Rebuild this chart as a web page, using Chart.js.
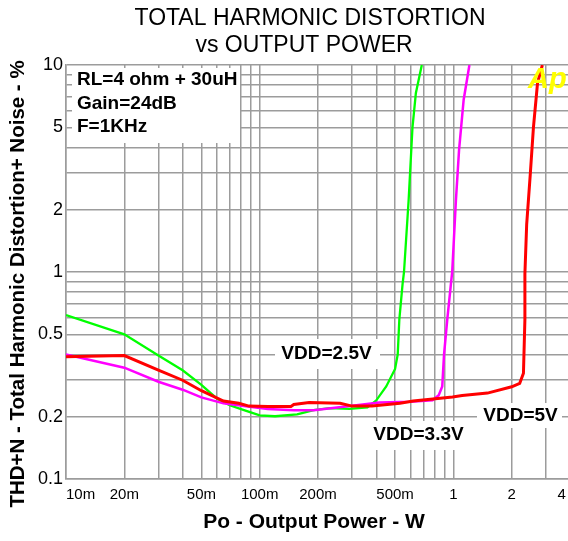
<!DOCTYPE html>
<html><head><meta charset="utf-8">
<script src="https://cdn.jsdelivr.net/npm/chart.js@4/dist/chart.umd.min.js"></script>
<style>
html,body{margin:0;padding:0;background:#fff;overflow:hidden;width:568px;height:541px}
#wrap{position:relative;width:570px;height:541px}
canvas{display:block}
</style></head>
<body><div id="wrap"><canvas id="c" width="570" height="541"></canvas></div>
<script>
const FONT = "'Liberation Sans', Arial, sans-serif";
const chartTitle = ["TOTAL HARMONIC DISTORTION", "vs OUTPUT POWER"];
const xAxisTitle = "Po - Output Power - W";
const yAxisTitle = "THD+N - Total Harmonic Distortion+ Noise - %";
const conditionLines = ["RL=4 ohm + 30uH", "Gain=24dB", "F=1KHz"];
const seriesNames = ["VDD=2.5V", "VDD=3.3V", "VDD=5V"];

// tick labels
const xTickValues = [0.01, 0.02, 0.05, 0.1, 0.2, 0.5, 1, 2, 4];
const xTickText   = ["10m", "20m", "50m", "100m", "200m", "500m", "1", "2", "4 "];
const yTickValues = [0.1, 0.2, 0.5, 1, 2, 5, 10];
const yTickText   = ["0.1", "0.2", "0.5", "1", "2", "5", "10"];

// VDD = 2.5 V  (green)
const power25 = [0.01, 0.02, 0.03, 0.04, 0.05, 0.06, 0.07, 0.083, 0.1, 0.12, 0.156, 0.19, 0.23, 0.29, 0.36, 0.40, 0.45, 0.50, 0.516, 0.526, 0.547, 0.556, 0.587, 0.615, 0.64, 0.687];
const thd25   = [0.62, 0.50, 0.395, 0.335, 0.285, 0.245, 0.227, 0.215, 0.203, 0.201, 0.205, 0.215, 0.22, 0.218, 0.222, 0.24, 0.28, 0.34, 0.40, 0.59, 0.88, 1.0, 2.2, 5.0, 7.3, 10];

// VDD = 3.3 V  (magenta)
const power33 = [0.01, 0.02, 0.03, 0.04, 0.05, 0.065, 0.083, 0.11, 0.15, 0.19, 0.30, 0.415, 0.6, 0.78, 0.84, 0.876, 0.895, 0.93, 0.968, 0.986, 1.03, 1.07, 1.13, 1.21];
const thd33   = [0.40, 0.345, 0.295, 0.27, 0.248, 0.232, 0.225, 0.218, 0.215, 0.215, 0.226, 0.234, 0.236, 0.24, 0.254, 0.28, 0.40, 0.59, 0.85, 1.0, 2.2, 3.9, 6.8, 10];

// VDD = 5 V  (red)
const power50 = [0.01, 0.013, 0.02, 0.03, 0.04, 0.05, 0.065, 0.078, 0.088, 0.11, 0.145, 0.15, 0.18, 0.26, 0.30, 0.38, 0.53, 0.62, 0.99, 1.11, 1.5, 2.0, 2.2, 2.3, 2.34, 2.34, 2.39, 2.49, 2.59, 2.72, 2.88];
const thd50   = [0.39, 0.392, 0.395, 0.336, 0.30, 0.267, 0.238, 0.232, 0.225, 0.224, 0.224, 0.229, 0.234, 0.232, 0.225, 0.225, 0.232, 0.238, 0.249, 0.253, 0.26, 0.279, 0.29, 0.324, 0.59, 0.98, 1.7, 2.9, 5.0, 8.2, 10];

function zip(xs, ys){ return xs.map((x,i)=>({x:x, y:ys[i]})); }
function decadeGrid(lo, hi, stopAt){
  const out=[];
  for(let d=lo; d<hi; d*=10){ for(let m=1;m<=9;m++){ const v=+(m*d).toPrecision(6); if(v<=stopAt) out.push(v);} }
  if(out[out.length-1]!==stopAt) out.push(stopAt);
  return out;
}
const xGrid = decadeGrid(0.01, 10, 4);
const yGrid = decadeGrid(0.1, 10, 10);
function lookup(vals, texts, v){
  for(let i=0;i<vals.length;i++){ if(Math.abs(vals[i]-v)/vals[i] < 1e-6) return texts[i]; }
  return '';
}

const GRID = '#9c9c9c';

const overlay = {
  id:'overlay',
  beforeDraw(chart){
    const ctx=chart.ctx; ctx.save(); ctx.fillStyle='#fff'; ctx.fillRect(0,0,chart.width,chart.height); ctx.restore();
  },
  beforeDatasetsDraw(chart){
    const ctx=chart.ctx; ctx.save();
    ctx.fillStyle='#fff';
    ctx.fillRect(72,68,168,75);
    ctx.fillRect(275,339,105,30);
    ctx.fillRect(369,421,99,29);
    ctx.fillRect(477,403,85,25);
    ctx.fillStyle='#000';
    ctx.font='bold 19px '+FONT;
    ctx.textBaseline='middle'; ctx.textAlign='left';
    conditionLines.forEach((t,i)=>ctx.fillText(t, 77, 80+i*23.3));
    ctx.textAlign='center';
    ctx.fillText(seriesNames[0], 326.5, 354);
    ctx.fillText(seriesNames[1], 418.5, 435);
    ctx.fillText(seriesNames[2], 520.5, 416);
    ctx.restore();
  },
  afterDraw(chart){
    const ctx=chart.ctx; ctx.save();
    ctx.fillStyle='#000'; ctx.textBaseline='middle'; ctx.textAlign='center';
    ctx.font='23px '+FONT;
    ctx.fillText(chartTitle[0], 310, 19);
    ctx.fillText(chartTitle[1], 304, 46);
    ctx.font='bold 21px '+FONT;
    ctx.fillText(xAxisTitle, 314, 522);
    ctx.save();
    ctx.translate(18, 284); ctx.rotate(-Math.PI/2);
    ctx.font='bold 20.5px '+FONT;
    ctx.fillText(yAxisTitle, 0, 0);
    ctx.restore();
    ctx.font='italic bold 29px '+FONT;
    ctx.fillStyle='#ffff00'; ctx.textAlign='left'; ctx.textBaseline='alphabetic';
    ctx.fillText('Ap', 528, 88);
    ctx.restore();
  }
};

new Chart(document.getElementById('c'), {
  type:'line',
  data:{ datasets:[
    {label:seriesNames[2], data:zip(power50,thd50), borderColor:'#ff0000', borderWidth:3, pointRadius:0, tension:0, order:0},
    {label:seriesNames[1], data:zip(power33,thd33), borderColor:'#ff00ff', borderWidth:2.5, pointRadius:0, tension:0, order:1},
    {label:seriesNames[0], data:zip(power25,thd25), borderColor:'#00ff00', borderWidth:2.3, pointRadius:0, tension:0, order:2}
  ]},
  options:{
    responsive:false, animation:false, events:[],
    layout:{padding:{left:0, right:0, top:65, bottom:0}},
    plugins:{legend:{display:false}, tooltip:{enabled:false}, title:{display:false}},
    scales:{
      x:{ type:'logarithmic', position:'bottom', min:0.01, max:4,
        afterBuildTicks:(s)=>{ s.ticks = xGrid.map(v=>({value:v})); },
        afterFit:(s)=>{ s.height = 62; s.paddingLeft = 0; s.paddingRight = 0; },
        ticks:{ autoSkip:false, maxRotation:0, minRotation:0, align:'inner', padding:7, color:'#000',
          font:{family:FONT, size:15}, callback:(v)=>lookup(xTickValues, xTickText, v) },
        grid:{ color:GRID, lineWidth:1.5, drawTicks:false },
        border:{ color:GRID, width:1.5 }
      },
      y:{ type:'logarithmic', position:'left', min:0.1, max:10,
        afterBuildTicks:(s)=>{ s.ticks = yGrid.map(v=>({value:v})); },
        afterFit:(s)=>{ s.width = 66; s.paddingTop = 0; s.paddingBottom = 0; },
        ticks:{ autoSkip:false, padding:3, color:'#000',
          font:{family:FONT, size:18}, callback:(v)=>lookup(yTickValues, yTickText, v) },
        grid:{ color:GRID, lineWidth:1.5, drawTicks:false },
        border:{ color:GRID, width:1.5 }
      }
    }
  },
  plugins:[overlay]
});
</script>
</body></html>
